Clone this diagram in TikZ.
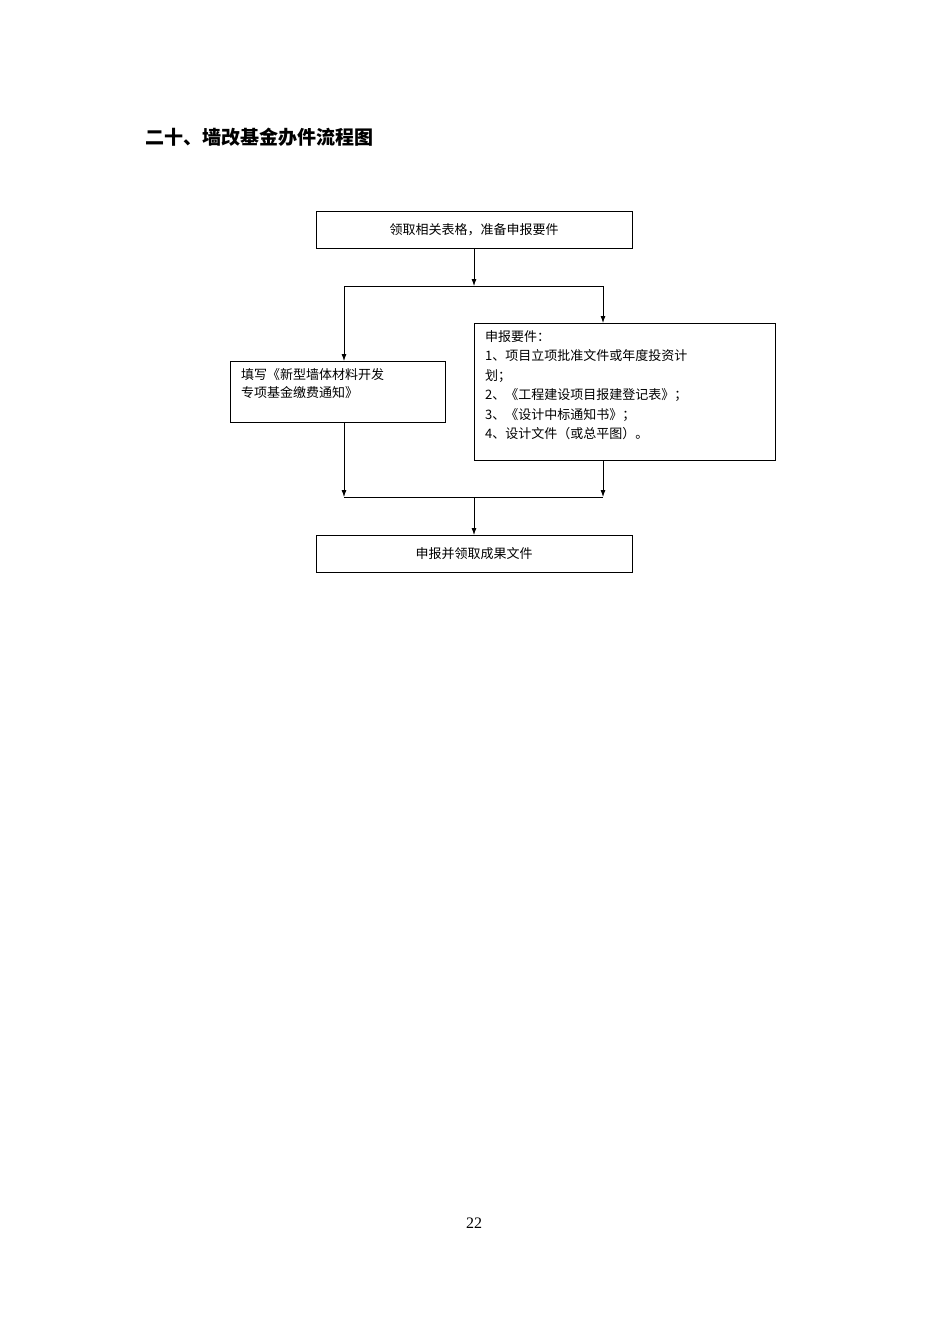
\documentclass[tikz,border=0pt]{standalone}
\usepackage{fontspec}
\newfontfamily\cjk{Noto Sans CJK SC}
\setmainfont{Liberation Serif}
\usetikzlibrary{arrows.meta}
\begin{document}
\begin{tikzpicture}[x=1pt,y=-1pt,
  box/.style={draw,line width=0.8pt,inner sep=0pt},
  txt/.style={font=\cjk\fontsize{13}{18.5}\selectfont,align=left,anchor=north west,inner sep=0pt},
  arr/.style={line width=0.8pt,-{Latex[length=7pt,width=5pt]}},
  ln/.style={line width=0.8pt}]
\useasboundingbox (0,0) rectangle (950,1344);
\node[anchor=west,font=\cjk\bfseries\fontsize{19}{22}\selectfont,inner sep=0pt] (title) at (145,137) {二十、墙改基金办件流程图};
\draw[box] (316,211) rectangle (632,248);
\node[font=\cjk\fontsize{13}{16}\selectfont] (a) at (474,229.5) {领取相关表格，准备申报要件};
\draw[box] (230,361) rectangle (445,422);
\node[txt] (b) at (241,368) {填写《新型墙体材料开发\\专项基金缴费通知》};
\draw[box] (474,323) rectangle (775,460);
\node[txt,font=\cjk\fontsize{13}{19.5}\selectfont] (c) at (485,330) {申报要件：\\1、项目立项批准文件或年度投资计\\划；\\2、《工程建设项目报建登记表》；\\3、《设计中标通知书》；\\4、设计文件（或总平图）。};
\draw[box] (316,535) rectangle (632,572);
\node[font=\cjk\fontsize{13}{16}\selectfont] (d) at (474,553.5) {申报并领取成果文件};
\coordinate (t1) at (474,248); \coordinate (t2) at (474,286);
\coordinate (l1) at (344,286); \coordinate (r1) at (603,286);
\coordinate (l2) at (344,361); \coordinate (r2) at (603,323);
\coordinate (l3) at (344,422); \coordinate (r3) at (603,460);
\coordinate (l4) at (344,497); \coordinate (r4) at (603,497);
\coordinate (m4) at (474,497); \coordinate (m5) at (474,535);
\draw[arr] (t1)--(t2);
\draw[ln] (l1)--(r1);
\draw[arr] (l1)--(l2);
\draw[arr] (r1)--(r2);
\draw[arr] (l3)--(l4);
\draw[arr] (r3)--(r4);
\draw[ln] (l4)--(r4);
\draw[arr] (m4)--(m5);
\node[font=\fontsize{16}{18}\selectfont] (p) at (474,1223) {22};
\end{tikzpicture}
\end{document}
